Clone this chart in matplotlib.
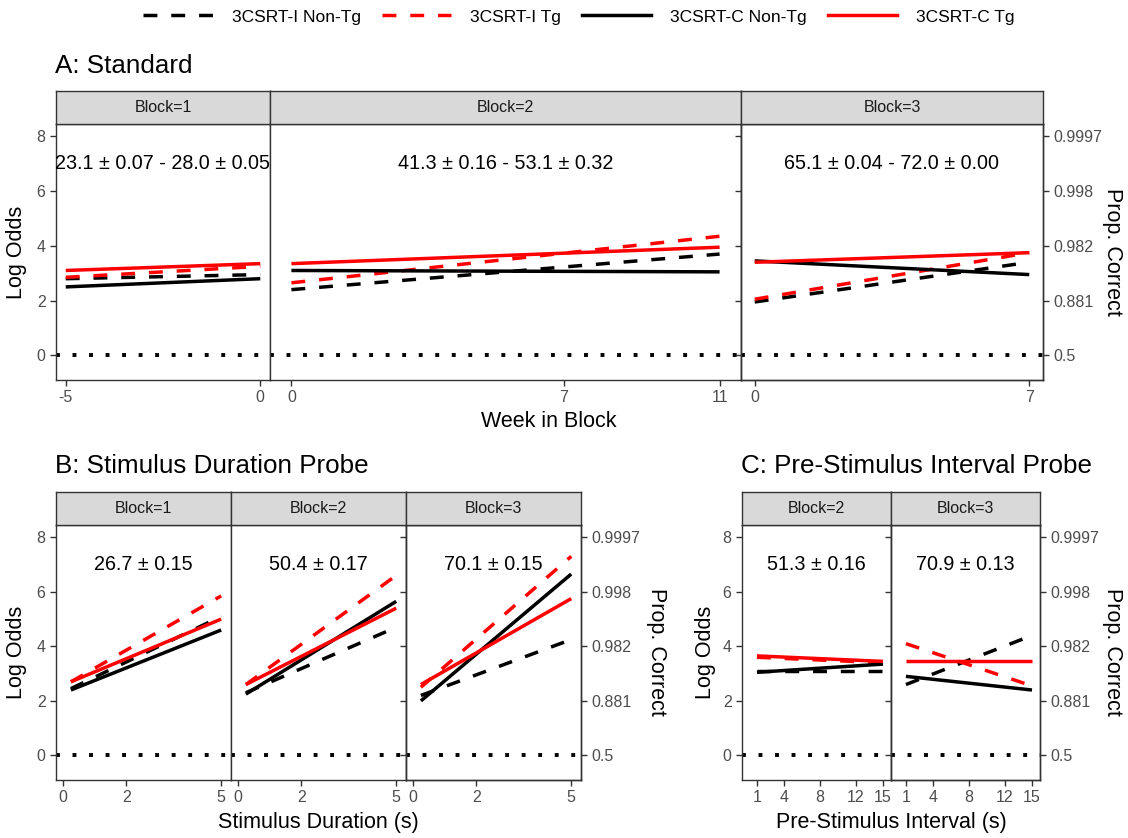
import matplotlib
matplotlib.use('Agg')
import matplotlib.pyplot as plt
from matplotlib.lines import Line2D

plt.rcParams['font.family'] = ['Liberation Sans', 'DejaVu Sans']
plt.rcParams['axes.unicode_minus'] = False

W, H = 1128, 838

# series order: I Non-Tg, I Tg, C Non-Tg, C Tg
series = ['3CSRT-I Non-Tg', '3CSRT-I Tg', '3CSRT-C Non-Tg', '3CSRT-C Tg']
colors = ['black', 'red', 'black', 'red']
styles = [(0, (4, 4)), (0, (4, 4)), 'solid', 'solid']

prop_ticks = [0, 2, 4, 6, 8]
prop_labels = ['0.5', '0.881', '0.982', '0.998', '0.9997']

# A: Standard -- [start, end] log odds per series
a_strips = ['Block=1', 'Block=2', 'Block=3']
a_x = [[-5, 0], [0, 11], [0, 7]]
a_xticks = [[-5, 0], [0, 7, 11], [0, 7]]
a_b1 = [[2.8, 2.95], [2.85, 3.25], [2.5, 2.8], [3.1, 3.35]]
a_b2 = [[2.4, 3.7], [2.65, 4.35], [3.1, 3.05], [3.35, 3.95]]
a_b3 = [[1.95, 3.4], [2.05, 3.75], [3.45, 2.95], [3.4, 3.75]]
a_text = ['23.1 \u00b1 0.07 - 28.0 \u00b1 0.05', '41.3 \u00b1 0.16 - 53.1 \u00b1 0.32',
          '65.1 \u00b1 0.04 - 72.0 \u00b1 0.00']

# B: Stimulus Duration Probe
b_strips = ['Block=1', 'Block=2', 'Block=3']
b_x = [0.25, 5]
b_xticks = [0, 2, 5]
b_b1 = [[2.45, 5.1], [2.7, 5.85], [2.4, 4.6], [2.7, 5.0]]
b_b2 = [[2.3, 4.7], [2.6, 6.6], [2.25, 5.65], [2.6, 5.4]]
b_b3 = [[2.2, 4.25], [2.5, 7.3], [2.0, 6.65], [2.6, 5.75]]
b_text = ['26.7 \u00b1 0.15', '50.4 \u00b1 0.17', '70.1 \u00b1 0.15']

# C: Pre-Stimulus Interval Probe
c_strips = ['Block=2', 'Block=3']
c_x = [1, 15]
c_xticks = [1, 4, 8, 12, 15]
c_b2 = [[3.1, 3.1], [3.6, 3.4], [3.05, 3.35], [3.65, 3.45]]
c_b3 = [[2.6, 4.4], [4.1, 2.55], [2.9, 2.4], [3.45, 3.45]]
c_text = ['51.3 \u00b1 0.16', '70.9 \u00b1 0.13']

YLIM = (-0.9, 8.45)
EDGE = '#333333'
TICKC = '#4D4D4D'
LW = 2.5

fig = plt.figure(figsize=(W / 100, H / 100), dpi=100)


def px_box(l, t, r, b):
    return [l / W, 1 - b / H, (r - l) / W, (b - t) / H]


def facet(l, r, strip_top, top, bottom, xlim, xticks, strip, xs, vals, label, first, last):
    ax = fig.add_axes(px_box(l, top, r, bottom))
    ax.axhline(0, color='black', lw=2.8, linestyle=(0, (1, 3.25)), dash_capstyle='butt')
    for i in range(len(series)):
        ax.plot(xs, vals[i], color=colors[i], linestyle=styles[i], lw=LW,
                solid_capstyle='butt', dash_capstyle='butt')
    ax.set_xlim(xlim)
    ax.set_ylim(YLIM)
    ax.set_xticks(xticks)
    ax.set_yticks(prop_ticks)
    ax.text((xlim[0] + xlim[1]) / 2, 7, label, ha='center', va='center',
            fontsize=14.2, color='black', clip_on=False)
    for s in ax.spines.values():
        s.set_color(EDGE)
        s.set_linewidth(1.0)
    ax.tick_params(length=4, width=1, color=EDGE, labelcolor=TICKC, labelsize=11.5)
    if not first:
        ax.tick_params(axis='y', left=False, labelleft=False)
    if last:
        tw = ax.twinx()
        tw.set_ylim(YLIM)
        tw.set_yticks(prop_ticks)
        tw.set_yticklabels(prop_labels)
        tw.tick_params(length=4, width=1, color=EDGE, labelcolor=TICKC, labelsize=11.5)
        for s in tw.spines.values():
            s.set_color(EDGE)
            s.set_linewidth(1.0)
    st = fig.add_axes(px_box(l, strip_top, r, top))
    st.set_facecolor('#D9D9D9')
    st.set_xticks([])
    st.set_yticks([])
    for s in st.spines.values():
        s.set_color(EDGE)
        s.set_linewidth(1.0)
    st.text(0.5, 0.5, strip, ha='center', va='center', fontsize=11.5,
            color='#1A1A1A', transform=st.transAxes)
    return ax


# Panel A
a_edges = [56, 270, 741, 1043]
a_lims = [(-5.25, 0.25), (-0.55, 11.55), (-0.35, 7.35)]
a_vals = [a_b1, a_b2, a_b3]
for k in range(3):
    facet(a_edges[k], a_edges[k + 1], 91, 124, 380, a_lims[k], a_xticks[k],
          a_strips[k], a_x[k], a_vals[k], a_text[k], k == 0, k == 2)

# Panel B
b_edges = [56, 231, 406, 581]
b_vals = [b_b1, b_b2, b_b3]
for k in range(3):
    facet(b_edges[k], b_edges[k + 1], 492, 525, 780, (-0.22, 5.31), b_xticks,
          b_strips[k], b_x, b_vals[k], b_text[k], k == 0, k == 2)

# Panel C
c_edges = [742, 891, 1040]
c_vals = [c_b2, c_b3]
for k in range(2):
    facet(c_edges[k], c_edges[k + 1], 492, 525, 780, (-0.66, 15.89), c_xticks,
          c_strips[k], c_x, c_vals[k], c_text[k], k == 0, k == 1)

# titles and axis labels
fig.text(55 / W, 1 - 66 / H, 'A: Standard', fontsize=18.7, va='center', ha='left')
fig.text(55 / W, 1 - 466 / H, 'B: Stimulus Duration Probe', fontsize=18.7, va='center', ha='left')
fig.text(741 / W, 1 - 466 / H, 'C: Pre-Stimulus Interval Probe', fontsize=18.7, va='center', ha='left')

fig.text(549 / W, 1 - 421 / H, 'Week in Block', fontsize=15.5, ha='center', va='center')
fig.text(318 / W, 1 - 822 / H, 'Stimulus Duration (s)', fontsize=15.5, ha='center', va='center')
fig.text(891 / W, 1 - 822 / H, 'Pre-Stimulus Interval (s)', fontsize=15.5, ha='center', va='center')

for x, y in [(17, 252), (17, 652), (706, 652)]:
    fig.text(x / W, 1 - y / H, 'Log Odds', fontsize=15.5, rotation=90, ha='center', va='center')
for x, y in [(1112, 252), (657, 652), (1112, 652)]:
    fig.text(x / W, 1 - y / H, 'Prop. Correct', fontsize=15.5, rotation=270, ha='center', va='center')

handles = [Line2D([], [], color=colors[i], linestyle=styles[i], lw=LW,
                  dash_capstyle='butt') for i in range(len(series))]
fig.legend(handles, series, loc='center', bbox_to_anchor=(579 / W, 1 - 17 / H), ncol=4,
           frameon=False, fontsize=12.5, handlelength=4.0, handletextpad=1.1,
           columnspacing=1.2)

fig.savefig('out.png', dpi=100)
